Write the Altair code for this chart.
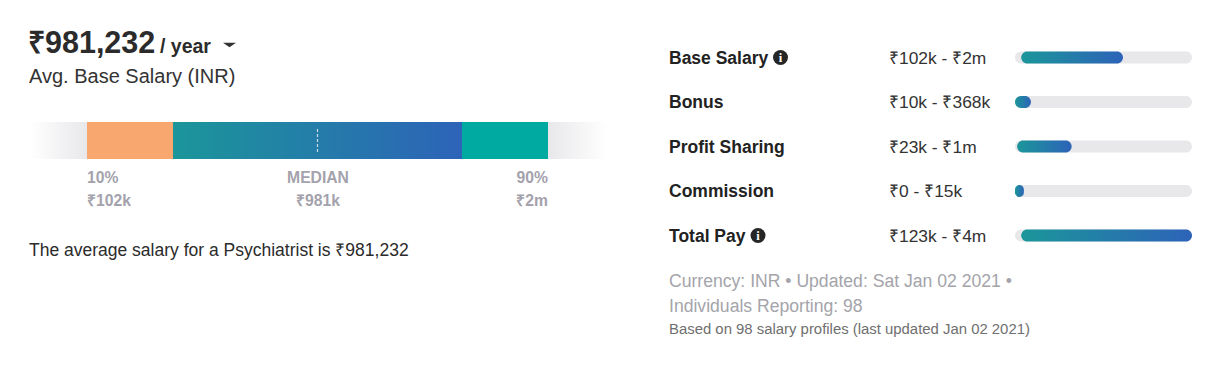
import altair as alt
import pandas as pd

# ---------------- data ----------------
avg_salary_text = "₹981,232"
period_text = "/ year"
subtitle_text = "Avg. Base Salary (INR)"
summary_text = "The average salary for a Psychiatrist is ₹981,232"

percentile_names = ["10%", "MEDIAN", "90%"]
percentile_values = ["₹102k", "₹981k", "₹2m"]

pay_categories = ["Base Salary", "Bonus", "Profit Sharing", "Commission", "Total Pay"]
pay_ranges = ["₹102k - ₹2m", "₹10k - ₹368k", "₹23k - ₹1m", "₹0 - ₹15k", "₹123k - ₹4m"]
pay_has_info = [True, False, False, False, True]
# filled part of each range track (fraction of the track)
pay_fill_start = [0.035, 0.0, 0.012, 0.0, 0.035]
pay_fill_end = [0.61, 0.09, 0.32, 0.05, 1.0]

footer_lines = ["Currency: INR • Updated: Sat Jan 02 2021 •", "Individuals Reporting: 98"]
footnote_text = "Based on 98 salary profiles (last updated Jan 02 2021)"

# ---------------- layout / style ----------------
W, H = 1195, 351
FONT = "Liberation Sans, Arial, Helvetica, sans-serif"
TEAL_BLUE = alt.LinearGradient(
    gradient="linear", x1=0, x2=1, y1=0, y2=0,
    stops=[alt.GradientStop(color="#1b969a", offset=0),
           alt.GradientStop(color="#2d63b8", offset=1)])
FADE_L = alt.LinearGradient(
    gradient="linear", x1=0, x2=1, y1=0, y2=0,
    stops=[alt.GradientStop(color="#ffffff", offset=0),
           alt.GradientStop(color="#e8e8eb", offset=1)])
FADE_R = alt.LinearGradient(
    gradient="linear", x1=0, x2=1, y1=0, y2=0,
    stops=[alt.GradientStop(color="#e8e8eb", offset=0),
           alt.GradientStop(color="#ffffff", offset=1)])

xs = alt.Scale(domain=[8, 8 + W], nice=False, zero=False)
ys = alt.Scale(domain=[8, 8 + H], nice=False, zero=False, reverse=True)
X = alt.X("x:Q", scale=xs, axis=None)
Y = alt.Y("y:Q", scale=ys, axis=None)


def text_layer(df, weight="normal", align="left", font=FONT):
    return alt.Chart(df).mark_text(
        align=align, baseline="alphabetic", fontWeight=weight, font=font
    ).encode(
        x=X, y=Y, text="text:N",
        size=alt.Size("size:Q", scale=None),
        color=alt.Color("color:N", scale=None),
    )


def rect_layer(df, color, **kw):
    return alt.Chart(df).mark_bar(color=color, **kw).encode(
        x=X, x2="x2:Q", y=Y, y2="y2:Q")


layers = []

# --- header ---
hdr_bold = pd.DataFrame({
    "x": [28, 160], "y": [53, 53],
    "text": [avg_salary_text, period_text],
    "size": [30.5, 19.5], "color": ["#2b2b2b", "#2b2b2b"]})
layers.append(text_layer(hdr_bold, "bold"))
layers.append(text_layer(pd.DataFrame({
    "x": [29], "y": [83], "text": [subtitle_text], "size": [20], "color": ["#333333"]})))
layers.append(alt.Chart(pd.DataFrame({"x": [229.5], "y": [45]})).mark_point(
    shape="M-1,-0.35L1,-0.35L0,0.35Z", filled=True, size=169, color="#333333", opacity=1
).encode(x=X, y=Y))

# --- percentile bar ---
bar_top, bar_bot = 122, 159
seg_edges = [30, 87, 173, 462, 548, 607]
seg_colors = [FADE_L, "#f8a76f", TEAL_BLUE, "#00aaa0", FADE_R]
for i, c in enumerate(seg_colors):
    layers.append(rect_layer(pd.DataFrame({
        "x": [seg_edges[i]], "x2": [seg_edges[i + 1]],
        "y": [bar_top], "y2": [bar_bot]}), c))
layers.append(alt.Chart(pd.DataFrame({"x": [317.5], "y": [129], "y2": [154]})).mark_rule(
    color="#dfe6f0", strokeDash=[3, 2], strokeWidth=1.2, opacity=0.9
).encode(x=X, y=Y, y2="y2:Q"))

pct_x = [87, 318, 548]
pct_align = ["left", "center", "right"]
for i in range(3):
    df = pd.DataFrame({
        "x": [pct_x[i], pct_x[i]], "y": [183, 206],
        "text": [percentile_names[i], percentile_values[i]],
        "size": [15.7, 15.7], "color": ["#a4a2ac", "#a4a2ac"]})
    layers.append(text_layer(df, "bold", pct_align[i]))

layers.append(text_layer(pd.DataFrame({
    "x": [29], "y": [256], "text": [summary_text], "size": [17.5], "color": ["#2b2b2b"]})))

# --- right panel ---
row_base = [63.5 + 44.5 * i for i in range(len(pay_categories))]
row_mid = [b - 6 for b in row_base]
layers.append(text_layer(pd.DataFrame({
    "x": [669] * 5, "y": row_base, "text": pay_categories,
    "size": [17.5] * 5, "color": ["#222222"] * 5}), "bold"))
layers.append(text_layer(pd.DataFrame({
    "x": [889] * 5, "y": row_base, "text": pay_ranges,
    "size": [17.4] * 5, "color": ["#333333"] * 5})))

# info icons
icon_x = {0: 780.5, 4: 758}
icon_df = pd.DataFrame({
    "x": [icon_x[i] for i in range(5) if pay_has_info[i]],
    "y": [row_mid[i] for i in range(5) if pay_has_info[i]]})
layers.append(alt.Chart(icon_df).mark_point(
    shape="circle", filled=True, size=225, color="#262626", opacity=1).encode(x=X, y=Y))
icon_df2 = icon_df.assign(y=icon_df["y"] + 4.3, text="i", size=12.5, color="#ffffff")
layers.append(text_layer(icon_df2, "bold", "center",
                         font="Liberation Serif, DejaVu Serif, serif"))

# tracks and fills
trk_l, trk_r = 1015, 1192
trk_w = trk_r - trk_l
trk = pd.DataFrame({"x": [trk_l] * 5, "x2": [trk_r] * 5,
                    "y": [m - 6 for m in row_mid], "y2": [m + 6 for m in row_mid]})
layers.append(rect_layer(trk, "#e8e8eb", cornerRadius=6))
for i in range(5):
    f = pd.DataFrame({"x": [trk_l + pay_fill_start[i] * trk_w],
                      "x2": [trk_l + pay_fill_end[i] * trk_w],
                      "y": [row_mid[i] - 6], "y2": [row_mid[i] + 6]})
    layers.append(rect_layer(f, TEAL_BLUE, cornerRadius=6))

# footer
layers.append(text_layer(pd.DataFrame({
    "x": [669, 669], "y": [287, 312], "text": footer_lines,
    "size": [17.6, 17.6], "color": ["#a4a4aa", "#a4a4aa"]})))
layers.append(text_layer(pd.DataFrame({
    "x": [669], "y": [334], "text": [footnote_text], "size": [14.9], "color": ["#6f6f6f"]})))

chart = alt.layer(*layers).properties(
    width=W, height=H,
    autosize=alt.AutoSizeParams(type="fit", contains="padding"),
    padding=0,
    background="#ffffff",
).configure_view(strokeWidth=0, stroke=None)

chart.save("out.html", embed_options={"renderer": "svg", "actions": False})
